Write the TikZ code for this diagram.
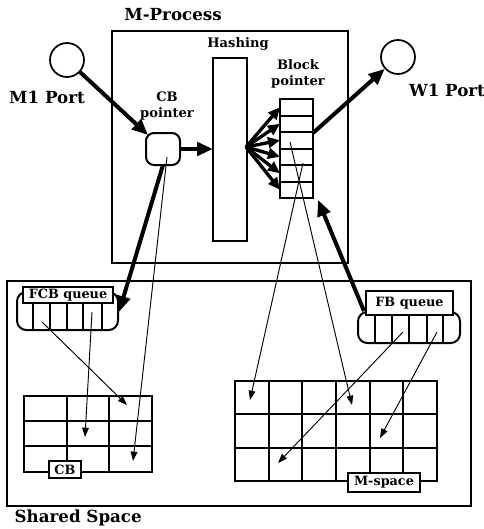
\documentclass[tikz,border=0pt]{standalone}
\usepackage{fontspec}
\setmainfont{DejaVu Serif}
\usetikzlibrary{arrows.meta,calc}
\begin{document}
\begin{tikzpicture}[x=0.75pt,y=-0.75pt,
  box/.style={draw,line width=1.5pt,inner sep=0pt,outer sep=0pt},
  cellbox/.style={draw,line width=1.5pt,inner sep=0pt,outer sep=0pt,minimum width=24.75pt,minimum height=12.375pt},
  lbl/.style={draw,fill=white,line width=1.5pt,inner sep=0pt,outer sep=0pt,font=\fontsize{9.6}{11}\selectfont\bfseries},
  big/.style={font=\fontsize{12.5}{14}\selectfont\bfseries},
  small/.style={font=\fontsize{9.8}{12.5}\selectfont\bfseries,align=center},
  gridline/.style={line width=1.5pt},
  thickarrow/.style={line width=3pt,-{Triangle[length=12pt,width=10pt]}},
  fanarrow/.style={line width=2.5pt,-{Triangle[length=9pt,width=8pt]}},
  thinarrow/.style={line width=0.7pt,-{Triangle[length=7pt,width=5pt]}},
]
\useasboundingbox (0,0) rectangle (484,529);

% main boxes
\node[box,minimum width=177pt,minimum height=174pt] (mproc) at (230,147) {};
\node[big] (mproclbl) at (173,15) {M-Process};
\node[box,minimum width=348pt,minimum height=168.75pt] (shared) at (239,393.5) {};
\node[big,anchor=west] (sharedlbl) at (10,518) {Shared Space};

% ports
\node[draw,circle,line width=1.3pt,minimum size=25.5pt,inner sep=0pt] (m1) at (67,60) {};
\node[big] (m1lbl) at (47,97) {M1 Port};
\node[draw,circle,line width=1.3pt,minimum size=25.5pt,inner sep=0pt] (w1) at (398,57) {};
\node[big] (w1lbl) at (447,90) {W1 Port};

% CB pointer
\node[box,rounded corners=6pt,minimum width=25.5pt,minimum height=24pt] (cb) at (163,149) {};
\node[small] (cblbl) at (167,106) {CB\\pointer};

% Hashing
\node[box,minimum width=25.5pt,minimum height=137.25pt] (hash) at (230,149.5) {};
\node[small] (hashlbl) at (238,44) {Hashing};

% Block pointer
\foreach \i in {1,...,6} {
  \node[cellbox] (bp\i) at (296.5,{99+16.5*(\i-0.5)}) {};
}
\node[small] (bplbl) at (298,74) {Block\\pointer};

% FCB queue
\node[box,rounded corners=7pt,minimum width=75.75pt,minimum height=28.5pt] (fcbq) at (67.5,311) {};
\foreach \x in {33,50,67,83,102} \draw[gridline] (\x,303) -- (\x,330);
\node[lbl,minimum width=67.5pt,minimum height=12pt] (fcblbl) at (68,295) {FCB queue};

% FB queue
\node[box,rounded corners=7pt,minimum width=76.5pt,minimum height=23.25pt] (fbq) at (409,327.5) {};
\foreach \x in {375,392,409,427,443} \draw[gridline] (\x,315) -- (\x,343);
\node[lbl,minimum width=65.25pt,minimum height=18pt] (fblbl) at (409.5,303) {FB queue};

% CB grid
\draw[gridline] (24,396) rectangle (152,472);
\foreach \x in {67,109} \draw[gridline] (\x,396) -- (\x,472);
\foreach \y in {421,446} \draw[gridline] (24,\y) -- (152,\y);
\node[lbl,minimum width=24pt,minimum height=12.75pt] (cblabel) at (65,469.5) {CB};

% M-space grid
\draw[gridline] (235,381) rectangle (437,481);
\foreach \x in {268.7,302.3,336,369.7,403.3} \draw[gridline] (\x,381) -- (\x,481);
\foreach \y in {414.3,447.7} \draw[gridline] (235,\y) -- (437,\y);
\node[lbl,minimum width=54pt,minimum height=14.25pt] (mspacelbl) at (384,482.5) {M-space};

% coordinates
\coordinate (hsrc) at (246,147);
\coordinate (cbtl) at (148,135);
\coordinate (cbbot) at (163,165);
\coordinate (cbin) at (167,157);
\coordinate (fcbtip) at (119,312);
\coordinate (bpout) at (313,133);
\coordinate (fbtop) at (364,311);
\coordinate (bptip) at (318,200);
\coordinate (fc1) at (42,322);
\coordinate (fc2) at (92,312);
\coordinate (g13) at (127,405);
\coordinate (g22) at (85,437);
\coordinate (g33) at (133,461);
\coordinate (b3) at (290,142);
\coordinate (b4) at (303,163);
\coordinate (ms14) at (352,405);
\coordinate (ms11) at (250,400);
\coordinate (fb3) at (403,332);
\coordinate (fb5) at (437,332);
\coordinate (ms32) at (278,463);
\coordinate (ms25) at (380,438);

% thick arrows
\draw[thickarrow] (m1) -- (cbtl);
\draw[thickarrow] (cb.east) -- (hash.west |- cb.east);
\foreach \i in {1,...,6} \draw[fanarrow] (hsrc) -- (bp\i.west);
\draw[thickarrow] (bpout) -- (w1);
\draw[thickarrow] (fbtop) -- (bptip);
\draw[thickarrow] (cbbot) -- (fcbtip);

% thin arrows
\draw[thinarrow] (cbin) -- (g33);
\draw[thinarrow] (fc1) -- (g13);
\draw[thinarrow] (fc2) -- (g22);
\draw[thinarrow] (b3) -- (ms14);
\draw[thinarrow] (b4) -- (ms11);
\draw[thinarrow] (fb3) -- (ms32);
\draw[thinarrow] (fb5) -- (ms25);
\end{tikzpicture}
\end{document}
